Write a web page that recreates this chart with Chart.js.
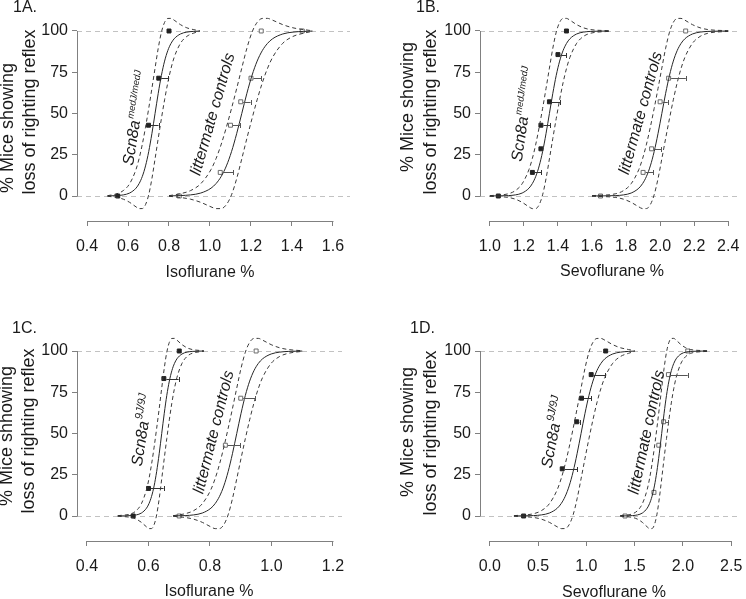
<!DOCTYPE html>
<html><head><meta charset="utf-8">
<script src="https://cdn.jsdelivr.net/npm/chart.js@4/dist/chart.umd.min.js"></script>
<style>
html,body{margin:0;padding:0;background:#fff;}
#wrap{position:relative;width:746px;height:599px;overflow:hidden;background:#fff;}
canvas{position:absolute;}
</style></head><body>
<div id="wrap">
<canvas id="cA" width="373" height="300" style="left:0;top:0;width:373px;height:300px"></canvas>
<canvas id="cB" width="373" height="300" style="left:373px;top:0;width:373px;height:300px"></canvas>
<canvas id="cC" width="373" height="299" style="left:0;top:300px;width:373px;height:299px"></canvas>
<canvas id="cD" width="373" height="299" style="left:373px;top:300px;width:373px;height:299px"></canvas>
</div>
<script>
// ---------- data ----------
const yTicks = [0, 25, 50, 75, 100];
const xTicksA = [0.4, 0.6, 0.8, 1.0, 1.2, 1.4, 1.6];
const xTicksB = [1.0, 1.2, 1.4, 1.6, 1.8, 2.0, 2.2, 2.4];
const xTicksC = [0.4, 0.6, 0.8, 1.0, 1.2];
const xTicksD = [0.0, 0.5, 1.0, 1.5, 2.0, 2.5];
const refLevels = [0, 100];

// fitted curve and confidence band values (% responding)
const fitY   = [0.03, 0.25, 0.67, 1.8, 4.74, 7.59, 11.92, 18.24, 26.89, 37.75, 50, 62.25, 73.11, 81.76, 88.08, 92.41, 95.26, 98.2, 99.33, 99.75, 99.97];
const upperY = [0.2, 1.39, 3.27, 7.45, 16.06, 22.83, 31.45, 41.71, 53.06, 65.06, 77.5, 89.56, 99.28, 105.23, 107.61, 107.65, 106.58, 103.85, 101.93, 100.89, 100.15];
const lowerY = [-0.15, -0.89, -1.93, -3.85, -6.58, -7.65, -7.61, -5.23, 0.72, 10.44, 22.5, 34.94, 46.94, 58.29, 68.55, 77.17, 83.94, 92.55, 96.73, 98.61, 99.8];

// concentrations along each group's curves
const A_mutX = [0.50,0.546,0.577,0.608,0.639,0.6545,0.670,0.6855,0.701,0.7165,0.732,0.7475,0.763,0.7785,0.794,0.8095,0.825,0.856,0.887,0.918,0.95];
const A_ctlX = [0.80,0.855,0.905,0.955,1.005,1.03,1.055,1.08,1.105,1.13,1.155,1.18,1.205,1.23,1.255,1.28,1.305,1.355,1.405,1.455,1.50];
const B_mutX = [1.00,1.11,1.15,1.19,1.23,1.25,1.27,1.29,1.31,1.33,1.35,1.37,1.39,1.41,1.43,1.45,1.47,1.51,1.55,1.59,1.70];
const B_ctlX = [1.60,1.74,1.785,1.83,1.875,1.8975,1.92,1.9425,1.965,1.9875,2.01,2.0325,2.055,2.0775,2.10,2.1225,2.145,2.19,2.235,2.28,2.40];
const C_mutX = [0.50,0.544,0.5605,0.577,0.5935,0.6018,0.610,0.6183,0.6265,0.6348,0.643,0.6513,0.6595,0.6678,0.676,0.6843,0.6925,0.709,0.7255,0.742,0.78];
const C_ctlX = [0.68,0.719,0.747,0.775,0.803,0.817,0.831,0.845,0.859,0.873,0.887,0.901,0.915,0.929,0.943,0.957,0.971,0.999,1.027,1.055,1.10];
const D_mutX = [0.25,0.453,0.535,0.617,0.699,0.74,0.781,0.822,0.863,0.904,0.945,0.986,1.027,1.068,1.109,1.15,1.191,1.273,1.355,1.437,1.50];
const D_ctlX = [1.35,1.48,1.53,1.58,1.63,1.655,1.68,1.705,1.73,1.755,1.78,1.805,1.83,1.855,1.88,1.905,1.93,1.98,2.03,2.08,2.25];

// observed points and right end of their horizontal bars
const A_mutPtX = [0.55, 0.70, 0.75, 0.80];
const A_mutPtY = [0, 42.9, 71.4, 100];
const A_mutBar = [null, 0.749, 0.797, null];
const A_ctlPtX = [0.85, 1.05, 1.10, 1.15, 1.20, 1.25, 1.45];
const A_ctlPtY = [0, 14.3, 42.9, 57.1, 71.4, 100, 100];
const A_ctlBar = [null, 1.113, 1.146, 1.198, 1.251, null, null];

const B_mutPtX = [1.05, 1.25, 1.30, 1.30, 1.35, 1.40, 1.45];
const B_mutPtY = [0, 14.3, 28.6, 42.9, 57.1, 85.7, 100];
const B_mutBar = [null, 1.303, null, 1.355, 1.412, 1.45, null];
const B_ctlPtX = [1.65, 1.90, 1.95, 2.00, 2.05, 2.15];
const B_ctlPtY = [0, 14.3, 28.6, 57.1, 71.4, 100];
const B_ctlBar = [null, 1.959, 2.007, 2.045, 2.151, null];

const C_mutPtX = [0.55, 0.60, 0.65, 0.70];
const C_mutPtY = [0, 16.7, 83.3, 100];
const C_mutBar = [null, 0.649, 0.698, null];
const C_ctlPtX = [0.70, 0.85, 0.90, 0.95];
const C_ctlPtY = [0, 42.9, 71.4, 100];
const C_ctlBar = [null, 0.899, 0.947, null];

const D_mutPtX = [0.35, 0.75, 0.90, 0.95, 1.05, 1.20];
const D_mutPtY = [0, 28.6, 57.1, 71.4, 85.7, 100];
const D_mutBar = [null, 0.904, 0.93, 1.05, 1.196, null];
const D_ctlPtX = [1.40, 1.70, 1.75, 1.80, 1.85, 2.05];
const D_ctlPtY = [0, 14.3, 42.9, 57.1, 85.7, 100];
const D_ctlBar = [null, null, null, 1.846, 2.05, null];

// ---------- rendering ----------
const FONT = "'Liberation Sans', Arial, Helvetica, sans-serif";
const TXT = '#1a1a1a';
const AXC = '#808080';

function pts(xs, ys) { return xs.map((x, i) => ({ x: x, y: ys[i] })); }

function buildDatasets(groups) {
  const ds = [];
  groups.forEach(g => {
    ds.push({ data: pts(g.curveX, fitY), borderColor: '#262626', borderWidth: 1, pointRadius: 0, cubicInterpolationMode: 'monotone', fill: false });
    ds.push({ data: pts(g.curveX, upperY), borderColor: '#3a3a3a', borderWidth: 1, borderDash: [4, 3], pointRadius: 0, cubicInterpolationMode: 'monotone', fill: false });
    ds.push({ data: pts(g.curveX, lowerY), borderColor: '#3a3a3a', borderWidth: 1, borderDash: [4, 3], pointRadius: 0, cubicInterpolationMode: 'monotone', fill: false });
  });
  groups.forEach(g => {
    ds.push({ data: pts(g.ptX, g.ptY), showLine: false, pointStyle: 'rect', pointRadius: 2.8,
      pointBackgroundColor: g.filled ? '#222' : '#fff', pointBorderColor: g.filled ? '#222' : '#6a6a6a', pointBorderWidth: 1 });
  });
  return ds;
}

function makeDecor(P) {
  return {
    id: 'decor',
    beforeDatasetsDraw(chart) {
      const { ctx, chartArea: a, scales: { x, y } } = chart;
      ctx.save();
      ctx.strokeStyle = '#c2c2c2'; ctx.lineWidth = 1; ctx.setLineDash([5, 4]);
      refLevels.forEach(v => {
        const py = Math.round(y.getPixelForValue(v)) + 0.5;
        ctx.beginPath(); ctx.moveTo(a.left, py); ctx.lineTo(a.right, py); ctx.stroke();
      });
      ctx.restore();
    },
    afterDatasetsDraw(chart) {
      const { ctx, chartArea: a, scales: { x, y } } = chart;
      ctx.save();
      // error bars
      P.groups.forEach(g => {
        ctx.strokeStyle = g.filled ? '#333' : '#555'; ctx.lineWidth = 1; ctx.setLineDash([]);
        g.bar.forEach((e, i) => {
          if (e === null) return;
          const x0 = x.getPixelForValue(g.ptX[i]) + 2.5;
          const x1 = x.getPixelForValue(e);
          const py = Math.round(y.getPixelForValue(g.ptY[i])) + 0.5;
          ctx.beginPath(); ctx.moveTo(x0, py); ctx.lineTo(x1, py);
          ctx.moveTo(Math.round(x1) + 0.5, py - 2.5); ctx.lineTo(Math.round(x1) + 0.5, py + 2.5);
          ctx.stroke();
        });
      });
      // axis lines (R style: span first to last tick)
      ctx.strokeStyle = AXC; ctx.lineWidth = 1;
      const lx = Math.round(a.left) + 0.5;
      ctx.beginPath(); ctx.moveTo(lx, y.getPixelForValue(yTicks[0]) + 0.5); ctx.lineTo(lx, y.getPixelForValue(yTicks[yTicks.length - 1])); ctx.stroke();
      const by = Math.round(a.bottom) + 0.5;
      ctx.beginPath(); ctx.moveTo(x.getPixelForValue(P.xTicks[0]), by); ctx.lineTo(x.getPixelForValue(P.xTicks[P.xTicks.length - 1]) + 0.5, by); ctx.stroke();
      ctx.restore();
    },
    afterDraw(chart) {
      const ctx = chart.ctx;
      ctx.save();
      ctx.fillStyle = TXT;
      // panel label
      ctx.font = '16px ' + FONT; ctx.textAlign = 'left'; ctx.textBaseline = 'alphabetic';
      ctx.fillText(P.label, P.labelPos[0], P.labelPos[1]);
      // x title
      ctx.textAlign = 'center'; ctx.textBaseline = 'middle';
      ctx.fillText(P.xTitle, P.xTitlePos[0], P.xTitlePos[1]);
      // y title (two lines)
      ctx.font = '18px ' + FONT;
      P.yTitle.forEach((t, i) => {
        ctx.save(); ctx.translate(P.yTitlePos[i][0], P.yTitlePos[i][1]); ctx.rotate(-Math.PI / 2);
        ctx.fillText(t, 0, 0); ctx.restore();
      });
      // group labels
      P.groupLabels.forEach(gl => {
        ctx.save(); ctx.translate(gl.pos[0], gl.pos[1]); ctx.rotate(gl.angle * Math.PI / 180);
        ctx.textAlign = 'left'; ctx.textBaseline = 'alphabetic';
        ctx.font = 'italic 16px ' + FONT; const w1 = ctx.measureText(gl.main).width;
        let w2 = 0;
        if (gl.sup) { ctx.font = 'italic ' + gl.supSize + 'px ' + FONT; w2 = ctx.measureText(gl.sup).width + 1; }
        const s = -(w1 + w2) / 2;
        ctx.font = 'italic 16px ' + FONT; ctx.fillText(gl.main, s, 5.5);
        if (gl.sup) { ctx.font = 'italic ' + gl.supSize + 'px ' + FONT; ctx.fillText(gl.sup, s + w1 + 1, -1.5); }
        ctx.restore();
      });
      ctx.restore();
    }
  };
}

function makePanel(id, P) {
  const ctx = document.getElementById(id).getContext('2d');
  new Chart(ctx, {
    type: 'line',
    data: { datasets: buildDatasets(P.groups) },
    options: {
      responsive: false, animation: false, events: [],
      layout: { padding: { left: 0, right: P.padR, top: P.padT, bottom: 0 } },
      plugins: { legend: { display: false }, tooltip: { enabled: false }, title: { display: false } },
      scales: {
        x: {
          type: 'linear', min: P.xMin, max: P.xMax,
          afterBuildTicks: s => { s.ticks = P.xTicks.map(v => ({ value: v })); },
          afterFit: s => { s.height = P.xAxisH; },
          ticks: { font: { family: FONT, size: 16, lineHeight: 2.375 }, color: TXT, padding: 2, maxRotation: 0, autoSkip: false,
            callback: v => Number(v).toFixed(1) },
          grid: { drawOnChartArea: false, drawTicks: true, tickLength: 5, color: AXC, lineWidth: 1 },
          border: { display: false }
        },
        y: {
          type: 'linear', min: P.yMin, max: P.yMax,
          afterBuildTicks: s => { s.ticks = yTicks.map(v => ({ value: v })); },
          afterFit: s => { s.width = P.yAxisW; },
          ticks: { font: { family: FONT, size: 16 }, color: TXT, padding: 4, autoSkip: false, callback: v => String(v) },
          grid: { drawOnChartArea: false, drawTicks: true, tickLength: 5, color: AXC, lineWidth: 1 },
          border: { display: false }
        }
      }
    },
    plugins: [makeDecor(P)]
  });
}

const yTitleStd = ['% Mice showing', 'loss of righting reflex'];

makePanel('cA', {
  xMin: 0.3512, xMax: 1.683, yMin: -15.15, yMax: 109.09, padR: 23, padT: 16, yAxisW: 77, xAxisH: 79,
  xTicks: xTicksA, label: '1A.', labelPos: [13, 12], xTitle: 'Isoflurane %', xTitlePos: [210, 273],
  yTitle: yTitleStd, yTitlePos: [[8, 128], [30, 112]],
  groups: [
    { curveX: A_mutX, ptX: A_mutPtX, ptY: A_mutPtY, bar: A_mutBar, filled: true },
    { curveX: A_ctlX, ptX: A_ctlPtX, ptY: A_ctlPtY, bar: A_ctlBar, filled: false }
  ],
  groupLabels: [
    { main: 'Scn8a', sup: 'medJ/medJ', supSize: 9.5, pos: [135, 118], angle: -81 },
    { main: 'littermate controls', sup: '', pos: [212, 114], angle: -74 }
  ]
});
makePanel('cB', {
  xMin: 0.9424, xMax: 2.4749, yMin: -15.15, yMax: 109.09, padR: 0, padT: 16, yAxisW: 107, xAxisH: 79,
  xTicks: xTicksB, label: '1B.', labelPos: [43, 12], xTitle: 'Sevoflurane %', xTitlePos: [239, 272],
  yTitle: yTitleStd, yTitlePos: [[35, 107], [58, 112]],
  groups: [
    { curveX: B_mutX, ptX: B_mutPtX, ptY: B_mutPtY, bar: B_mutBar, filled: true },
    { curveX: B_ctlX, ptX: B_ctlPtX, ptY: B_ctlPtY, bar: B_ctlBar, filled: false }
  ],
  groupLabels: [
    { main: 'Scn8a', sup: 'medJ/medJ', supSize: 9.5, pos: [150, 114], angle: -82 },
    { main: 'littermate controls', sup: '', pos: [267, 113], angle: -74.5 }
  ]
});
makePanel('cC', {
  xMin: 0.3675, xMax: 1.2293, yMin: -15.15, yMax: 112.73, padR: 31, padT: 30, yAxisW: 77, xAxisH: 58,
  xTicks: xTicksC, label: '1C.', labelPos: [12, 33], xTitle: 'Isoflurane %', xTitlePos: [209, 292],
  yTitle: ['% Mice shhowing', 'loss of righting reflex'], yTitlePos: [[7, 136], [29, 131]],
  groups: [
    { curveX: C_mutX, ptX: C_mutPtX, ptY: C_mutPtY, bar: C_mutBar, filled: true },
    { curveX: C_ctlX, ptX: C_ctlPtX, ptY: C_ctlPtY, bar: C_ctlBar, filled: false }
  ],
  groupLabels: [
    { main: 'Scn8a', sup: '9J/9J', supSize: 11, pos: [142, 130], angle: -81 },
    { main: 'littermate controls', sup: '', pos: [213, 132], angle: -76 }
  ]
});
makePanel('cD', {
  xMin: -0.1016, xMax: 2.6016, yMin: -15.15, yMax: 112.73, padR: 0, padT: 30, yAxisW: 107, xAxisH: 58,
  xTicks: xTicksD, label: '1D.', labelPos: [37, 33], xTitle: 'Sevoflurane %', xTitlePos: [241, 293],
  yTitle: yTitleStd, yTitlePos: [[35, 132], [58, 133]],
  groups: [
    { curveX: D_mutX, ptX: D_mutPtX, ptY: D_mutPtY, bar: D_mutBar, filled: true },
    { curveX: D_ctlX, ptX: D_ctlPtX, ptY: D_ctlPtY, bar: D_ctlBar, filled: false }
  ],
  groupLabels: [
    { main: 'Scn8a', sup: '9J/9J', supSize: 11, pos: [180, 132], angle: -79 },
    { main: 'littermate controls', sup: '', pos: [273, 132], angle: -78 }
  ]
});
</script>
</body></html>
